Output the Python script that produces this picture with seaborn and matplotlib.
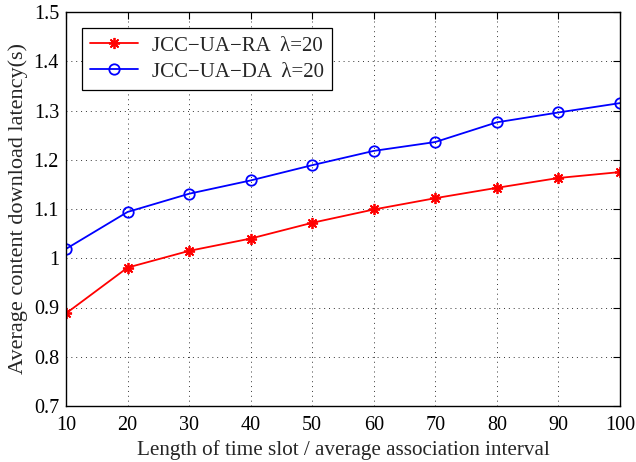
import matplotlib
matplotlib.use("Agg")
import matplotlib.pyplot as plt
import seaborn as sns
import pandas as pd
import numpy as np

x_vals = [10, 20, 30, 40, 50, 60, 70, 80, 90, 100]
ra_vals = [0.888, 0.981, 1.015, 1.040, 1.072, 1.099, 1.122, 1.143, 1.163, 1.175]
da_vals = [1.019, 1.094, 1.131, 1.158, 1.189, 1.218, 1.236, 1.276, 1.296, 1.315]
series_names = ["JCC\u2212UA\u2212RA  \u03bb=20", "JCC\u2212UA\u2212DA  \u03bb=20"]
y_ticks = [0.7, 0.8, 0.9, 1.0, 1.1, 1.2, 1.3, 1.4, 1.5]
y_tick_labels = ["0.7", "0.8", "0.9", "1", "1.1", "1.2", "1.3", "1.4", "1.5"]

sns.set_style("white")
plt.rcParams['font.family'] = ['Liberation Serif', 'DejaVu Serif']
plt.rcParams['mathtext.fontset'] = 'stix'

df = pd.DataFrame({
    "x": x_vals * 2,
    "y": ra_vals + da_vals,
    "series": [series_names[0]] * len(x_vals) + [series_names[1]] * len(x_vals),
})

fig = plt.figure(figsize=(6.36, 4.62), dpi=100)
ax = fig.add_axes([66 / 636, 56 / 462, 554 / 636, 394 / 462])

sns.lineplot(data=df[df.series == series_names[0]], x="x", y="y", ax=ax,
             color="#ff0000", marker=(8, 2, 0), markersize=8, markeredgewidth=1.3,
             markeredgecolor="#ff0000", linewidth=1.3, label=series_names[0])
sns.lineplot(data=df[df.series == series_names[1]], x="x", y="y", ax=ax,
             color="#0000ff", marker="o", markersize=7.5, markerfacecolor="none",
             markeredgewidth=1.3, markeredgecolor="#0000ff", linewidth=1.3,
             label=series_names[1])

ax.set_xlim(10, 100)
ax.set_ylim(0.7, 1.5)
ax.set_xticks(x_vals)
ax.set_xticklabels([str(v) for v in x_vals])
ax.set_yticks(y_ticks)
ax.set_yticklabels(y_tick_labels)
ax.set_xlabel("Length of time slot / average association interval", fontsize=15.2, labelpad=4)
ax.set_ylabel("Average content download latency(s)", fontsize=16, labelpad=4)
ax.tick_params(axis="both", direction="in", length=5, width=0.8, labelsize=14.5,
               top=True, right=True, colors="black")
ax.tick_params(axis="x", pad=7)
ax.tick_params(axis="y", pad=5)
ax.grid(True, linestyle=(0, (1, 4)), color="black", linewidth=0.7, alpha=0.8)
for s in ax.spines.values():
    s.set_visible(True)
    s.set_color("black")
    s.set_linewidth(1.0)

leg = ax.legend(loc="upper left", bbox_to_anchor=(0.029, 0.96), fontsize=15,
                frameon=True, fancybox=False, edgecolor="black", framealpha=1,
                handlelength=2.3, borderpad=0.4, labelspacing=0.3, handletextpad=0.65,
                borderaxespad=0)
leg.get_frame().set_linewidth(0.9)

fig.savefig("out.png", dpi=100)
